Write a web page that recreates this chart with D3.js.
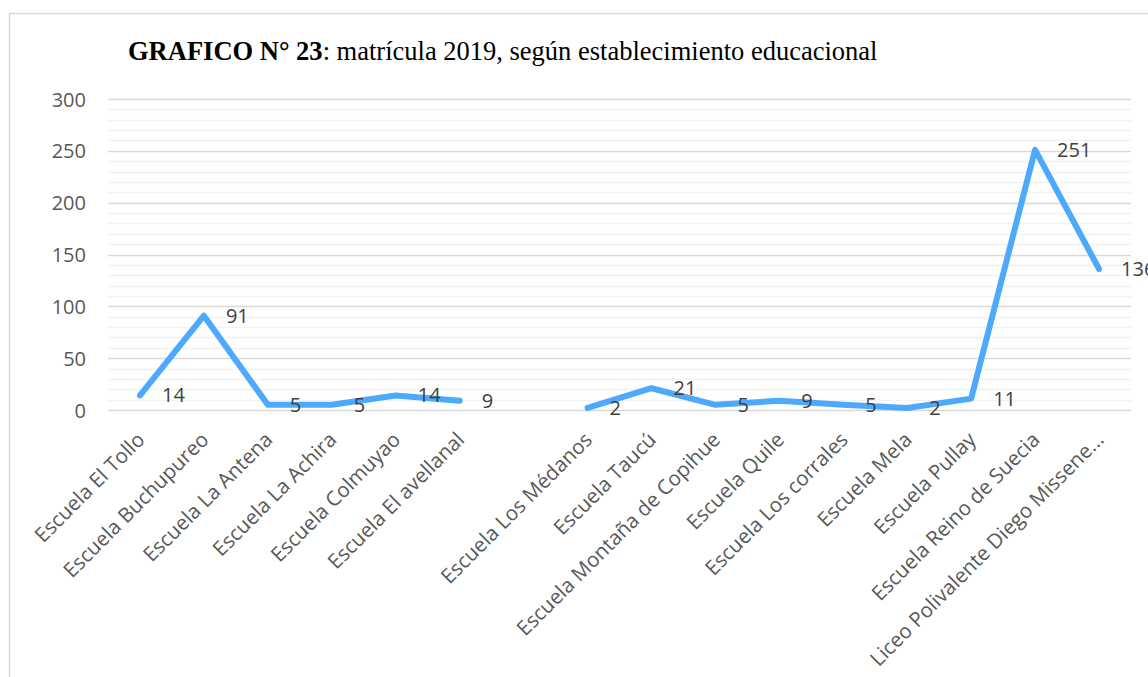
<!DOCTYPE html>
<html><head><meta charset="utf-8">
<script src="https://cdn.jsdelivr.net/npm/d3@7"></script>
<style>body{margin:0;background:#fff}svg{display:block}</style>
</head><body>
<svg id="c" width="1148" height="677"></svg>
<script>
const categories = ["Escuela El Tollo","Escuela Buchupureo","Escuela La Antena","Escuela La Achira","Escuela Colmuyao","Escuela El avellanal","","Escuela Los Médanos","Escuela Taucú","Escuela Montaña de Copihue","Escuela Quile","Escuela Los corrales","Escuela Mela","Escuela Pullay","Escuela Reino de Suecia","Liceo Polivalente Diego Missene..."];
const values = [14,91,5,5,14,9,null,2,21,5,9,5,2,11,251,136];
const yTicks = [0,50,100,150,200,250,300];
const minorTicks = d3.range(0,301,10);

const svg = d3.select("#c");
svg.append("rect").attr("x",9.5).attr("y",13.5).attr("width",1300).attr("height",800)
  .attr("fill","none").attr("stroke","#d9d9d9").attr("stroke-width",1.5);

const m = {l:108, r:1131, t:99, b:410};
const x = d3.scaleBand().domain(d3.range(categories.length)).range([m.l,m.r]);
const y = d3.scaleLinear().domain([0,300]).range([m.b,m.t]);
const cx = i => x(i)+x.bandwidth()/2;

const g = svg.append("g");
g.selectAll(".minor").data(minorTicks.filter(d=>d%50)).join("line")
  .attr("x1",m.l).attr("x2",m.r).attr("y1",d=>Math.round(y(d))+0.5).attr("y2",d=>Math.round(y(d))+0.5)
  .attr("stroke","#f2f2f2").attr("stroke-width",1.5);
g.selectAll(".major").data(yTicks).join("line")
  .attr("x1",m.l).attr("x2",m.r).attr("y1",d=>Math.round(y(d))+0.5).attr("y2",d=>Math.round(y(d))+0.5)
  .attr("stroke","#d9d9d9").attr("stroke-width",1.5);

const yAxis = d3.axisLeft(y).tickValues(yTicks).tickSize(0).tickPadding(0);
const ya = svg.append("g").attr("transform","translate(86,0)").call(yAxis);
ya.select(".domain").remove();
ya.selectAll("text").attr("font-family","'Open Sans'").attr("font-size",20).attr("fill","#595959").attr("dy","0.35em");

const xAxis = d3.axisBottom(x).tickFormat(i=>categories[i]).tickSize(0).tickPadding(0);
const xa = svg.append("g").attr("transform",`translate(0,${m.b})`).call(xAxis);
xa.select(".domain").remove();
xa.selectAll("text").attr("font-family","'Open Sans'").attr("font-size",20.5).attr("fill","#595959")
  .attr("text-anchor","end").attr("dy",0).attr("y",0)
  .attr("transform","translate(6,31) rotate(-45)");

const line = d3.line().defined(d=>d!=null).x((d,i)=>cx(i)).y(d=>y(d));
svg.append("path").datum(values).attr("d",line).attr("fill","none")
  .attr("stroke","#4da9fb").attr("stroke-width",6).attr("stroke-linejoin","round").attr("stroke-linecap","round");

svg.selectAll(".lbl").data(values.map((v,i)=>({v,i})).filter(d=>d.v!=null)).join("text")
  .attr("x",d=>cx(d.i)+22).attr("y",d=>y(d.v)).attr("dy","0.35em")
  .attr("font-family","'Open Sans'").attr("font-size",20).attr("fill","#404040").text(d=>d.v);

const t = svg.append("text").attr("x",128).attr("y",60).attr("font-family","'Liberation Serif'").attr("font-size",26.5).attr("fill","#000");
t.append("tspan").attr("font-weight","bold").text("GRAFICO N° 23");
t.append("tspan").text(": matrícula 2019, según establecimiento educacional");
</script>
</body></html>
